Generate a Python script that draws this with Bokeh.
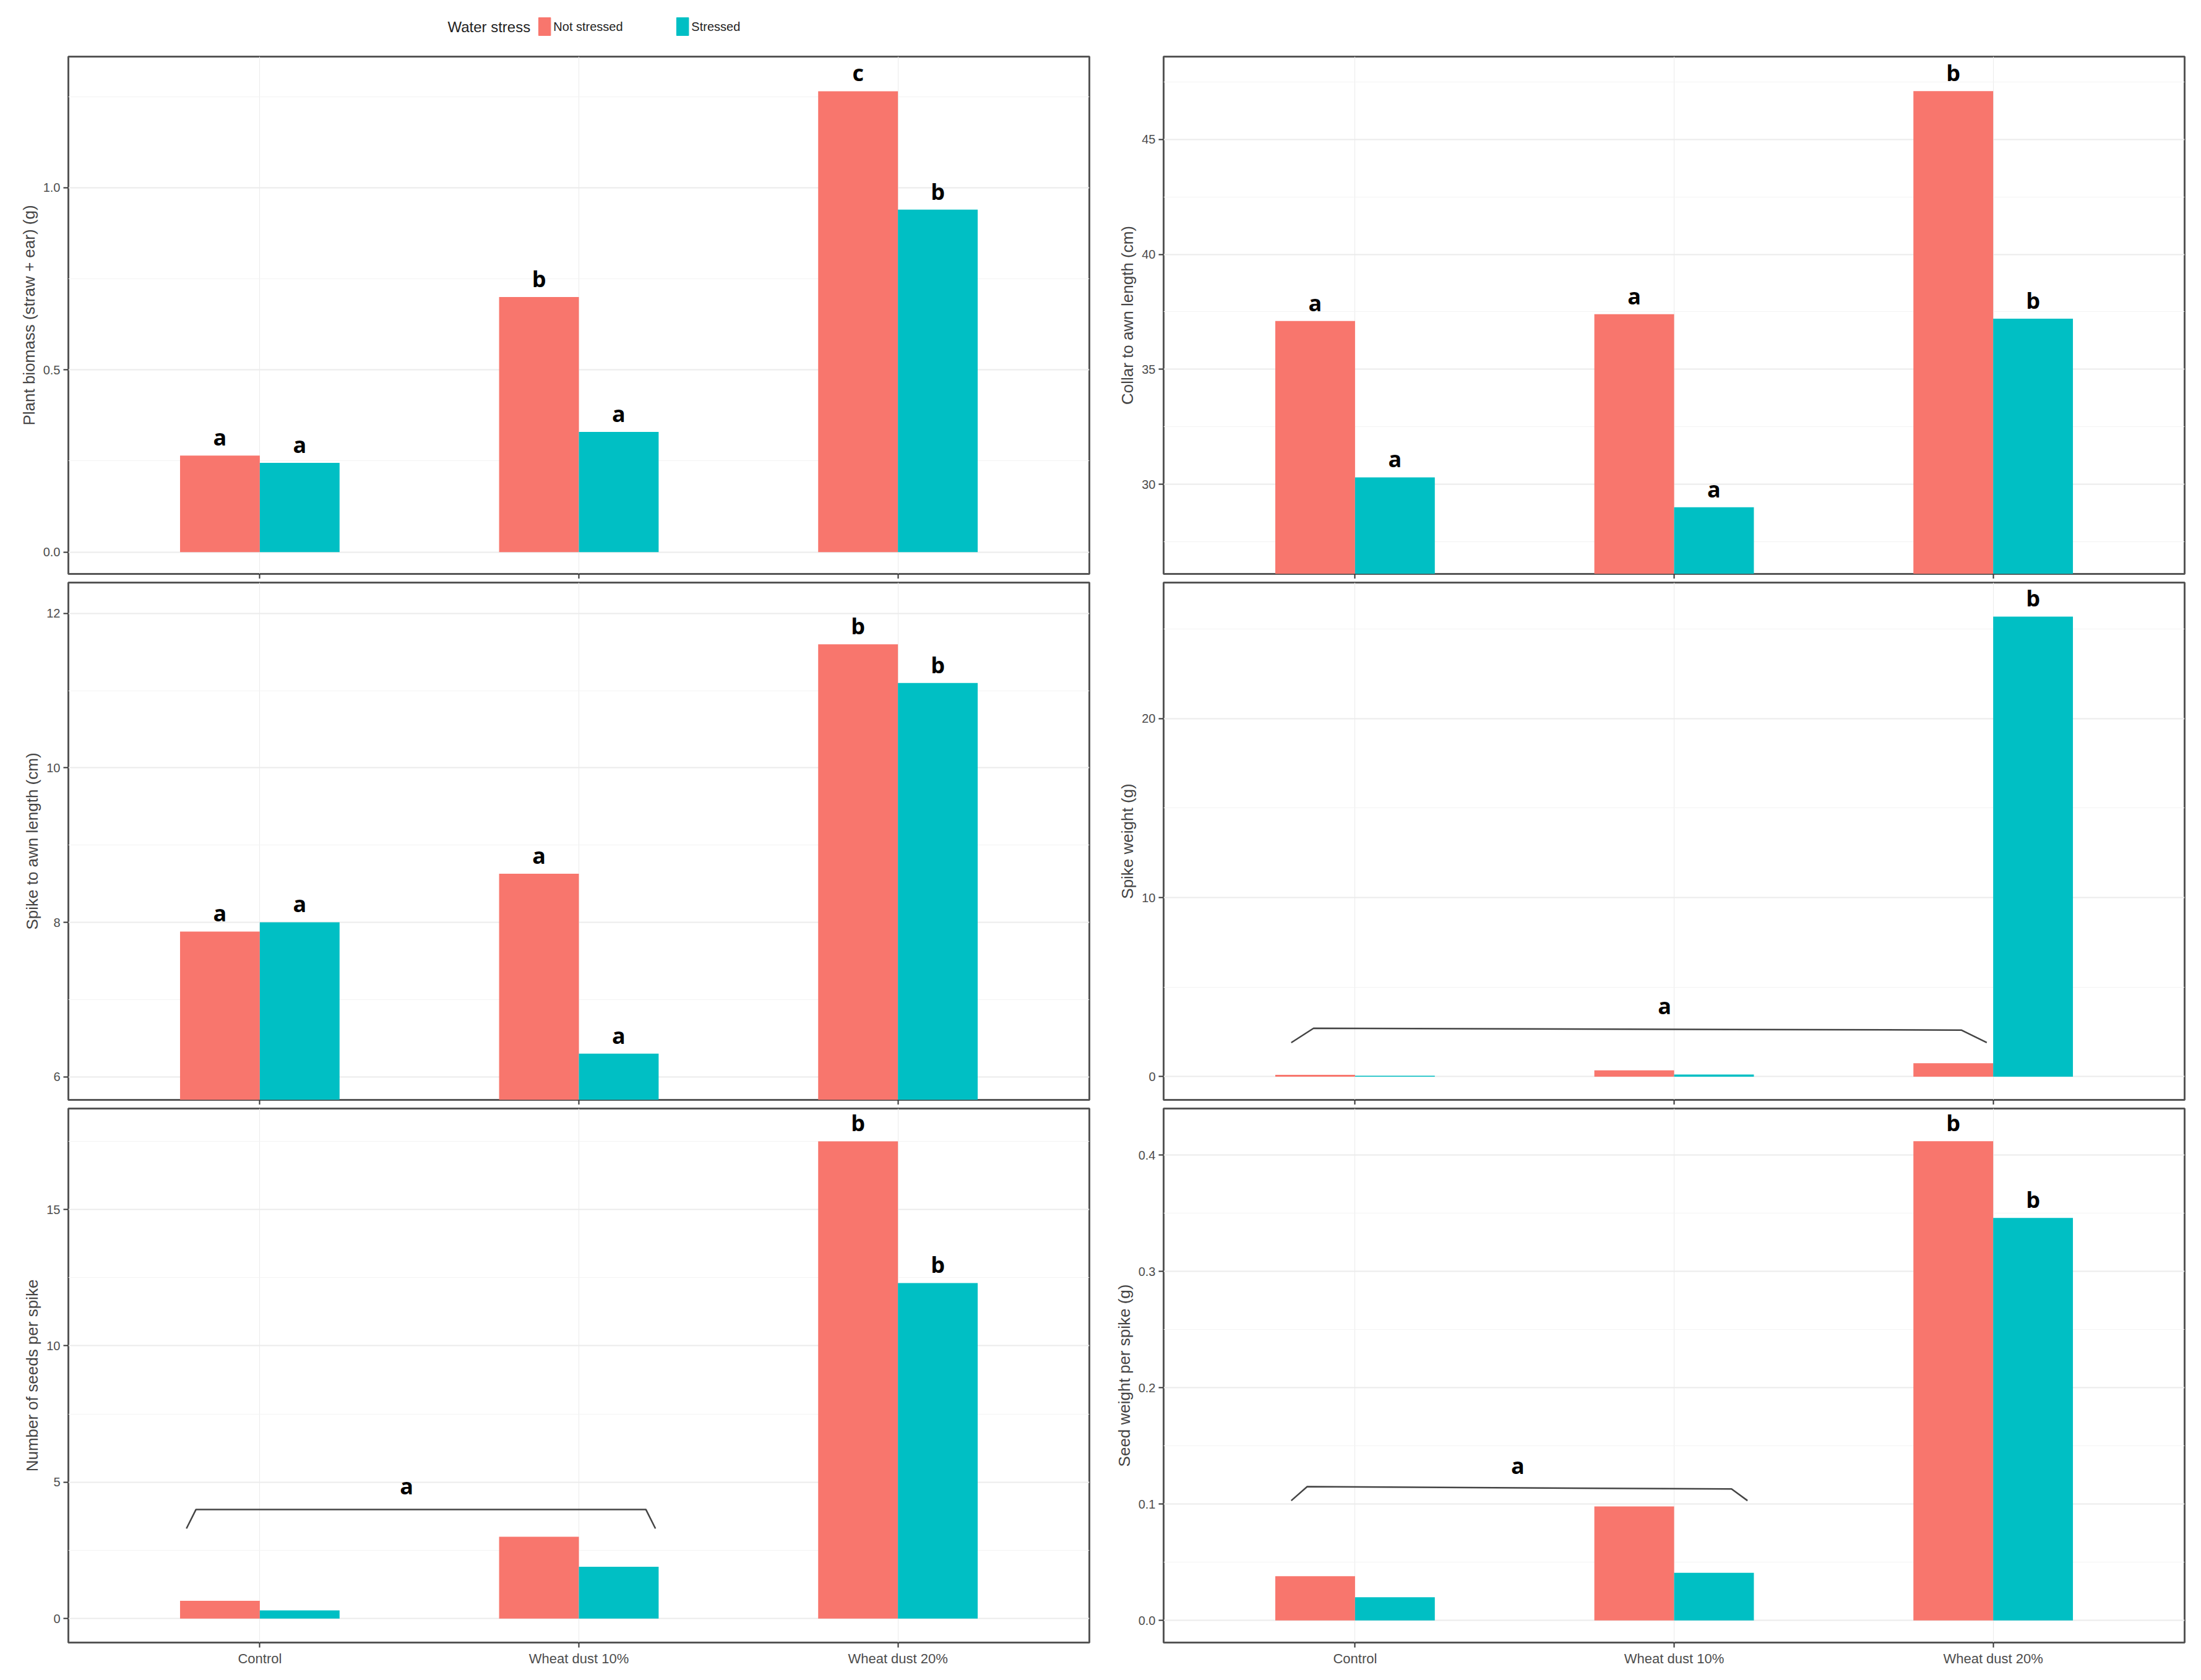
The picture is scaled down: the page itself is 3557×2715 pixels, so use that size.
from bokeh.plotting import figure
from bokeh.layouts import column, gridplot
from bokeh.models import Range1d, FixedTicker, ColumnDataSource, PrintfTickFormatter
from bokeh.core.properties import value
from bokeh.embed import file_html
from bokeh.resources import INLINE

categories = ["Control", "Wheat dust 10%", "Wheat dust 20%"]
groups = ["Not stressed", "Stressed"]
colors = ["#F8766D", "#00BFC4"]

biomass_ns = [0.265, 0.70, 1.265]
biomass_s = [0.245, 0.33, 0.94]
biomass_letters = [["a", "b", "c"], ["a", "a", "b"]]

collar_ns = [37.1, 37.4, 47.1]
collar_s = [30.3, 29.0, 37.2]
collar_letters = [["a", "a", "b"], ["a", "a", "b"]]

spike_awn_ns = [7.88, 8.63, 11.6]
spike_awn_s = [8.0, 6.3, 11.1]
spike_awn_letters = [["a", "a", "b"], ["a", "a", "b"]]

spike_w_ns = [0.1, 0.35, 0.75]
spike_w_s = [0.05, 0.12, 25.7]
spike_w_letters = [["", "", ""], ["", "", "b"]]

seeds_ns = [0.65, 3.0, 17.5]
seeds_s = [0.3, 1.9, 12.3]
seeds_letters = [["", "", "b"], ["", "", "b"]]

seedw_ns = [0.038, 0.098, 0.412]
seedw_s = [0.02, 0.041, 0.346]
seedw_letters = [["", "", "b"], ["", "", "b"]]

FONT = "Liberation Sans"
W = 1770


def panel(title, ns, s, letters, yr, ticks, minor, fmt, bracket=None, xlabels=False, h=850):
    p = figure(width=W, height=h, output_backend="svg", toolbar_location=None,
               x_range=Range1d(0.4, 3.6), y_range=Range1d(*yr),
               min_border_left=110, min_border_right=10, min_border_top=6, min_border_bottom=6)
    p.background_fill_color = "white"
    p.outline_line_color = "#555555"
    p.outline_line_width = 3
    xs = [1, 2, 3]
    off = (yr[1] - yr[0]) * 0.006
    for gi, (vals, col) in enumerate(zip([ns, s], colors)):
        xx = [x + (-0.125 if gi == 0 else 0.125) for x in xs]
        p.vbar(x=xx, top=vals, bottom=0, width=0.25, color=col, line_color=None)
        lx = [x for x, l in zip(xx, letters[gi]) if l]
        ly = [v + off for v, l in zip(vals, letters[gi]) if l]
        lt = [l for l in letters[gi] if l]
        if lt:
            p.text(x=lx, y=ly, text=lt, text_align="center",
                   text_baseline="bottom", text_font=value("Open Sans"),
                   text_font_style="bold", text_font_size="36px", text_color="black")
    if bracket:
        bx, by, lx, ly = bracket
        p.line(x=bx, y=by, line_color="#444444", line_width=2.5)
        p.text(x=[lx], y=[ly], text=["a"], text_align="center", text_baseline="bottom",
               text_font=value("Open Sans"), text_font_style="bold", text_font_size="36px")
    p.xaxis.ticker = FixedTicker(ticks=[1, 2, 3])
    if xlabels:
        p.xaxis.major_label_overrides = {1: categories[0], 2: categories[1], 3: categories[2]}
        p.xaxis.major_label_text_font_size = "22px"
    else:
        p.xaxis.major_label_overrides = {1: "", 2: "", 3: ""}
        p.xaxis.major_label_text_font_size = "22px"
    p.xaxis.major_label_text_font = FONT
    p.xaxis.major_label_text_color = "#4d4d4d"
    p.yaxis.ticker = FixedTicker(ticks=ticks, minor_ticks=minor)
    p.yaxis.formatter = PrintfTickFormatter(format=fmt)
    p.yaxis.major_label_text_font_size = "20px"
    p.yaxis.major_label_text_font = FONT
    p.yaxis.major_label_text_color = "#4d4d4d"
    p.yaxis.axis_label = title
    p.yaxis.axis_label_text_font = FONT
    p.yaxis.axis_label_text_font_style = "normal"
    p.yaxis.axis_label_text_font_size = "26px"
    for ax in [p.xaxis, p.yaxis]:
        ax.axis_line_color = None
        ax.major_tick_line_color = "#333333"
        ax.major_tick_line_width = 2
        ax.minor_tick_line_color = None
        ax.major_tick_in = 0
        ax.major_tick_out = 8
    p.xgrid.grid_line_color = "#ebebeb"
    p.ygrid.grid_line_color = "#ebebeb"
    p.ygrid.grid_line_width = 2
    p.ygrid.minor_grid_line_color = "#f3f3f3"
    return p


p1 = panel("Plant biomass (straw + ear) (g)", biomass_ns, biomass_s, biomass_letters,
           (-0.06, 1.36), [0.0, 0.5, 1.0], [0.25, 0.75, 1.25], "%.1f")
p2 = panel("Collar to awn length (cm)", collar_ns, collar_s, collar_letters,
           (26.1, 48.6), [30, 35, 40, 45], [27.5, 32.5, 37.5, 42.5, 47.5], "%d")
p3 = panel("Spike to awn length (cm)", spike_awn_ns, spike_awn_s, spike_awn_letters,
           (5.7, 12.4), [6, 8, 10, 12], [7, 9, 11], "%d")
p4 = panel("Spike weight (g)", spike_w_ns, spike_w_s, spike_w_letters,
           (-1.3, 27.6), [0, 10, 20], [5, 15, 25], "%d",
           bracket=([0.8, 0.87, 2.9, 2.98], [1.9, 2.7, 2.6, 1.9], 1.97, 3.1))
p5 = panel("Number of seeds per spike", seeds_ns, seeds_s, seeds_letters,
           (-0.88, 18.7), [0, 5, 10, 15], [2.5, 7.5, 12.5, 17.5], "%d",
           bracket=([0.77, 0.8, 2.21, 2.24], [3.3, 4.0, 4.0, 3.3], 1.46, 4.3), xlabels=True, h=910)
p6 = panel("Seed weight per spike (g)", seedw_ns, seedw_s, seedw_letters,
           (-0.019, 0.44), [0.0, 0.1, 0.2, 0.3, 0.4], [0.05, 0.15, 0.25, 0.35], "%.1f",
           bracket=([0.8, 0.85, 2.18, 2.23], [0.103, 0.115, 0.113, 0.103], 1.51, 0.12),
           xlabels=True, h=910)

hdr = figure(width=2 * W, height=85, output_backend="svg", toolbar_location=None,
             x_range=Range1d(0, 1), y_range=Range1d(0, 1), min_border=0)
hdr.axis.visible = False
hdr.grid.visible = False
hdr.outline_line_color = None
src = ColumnDataSource(dict(x=[0.2485, 0.3115], y=[0.5, 0.5], c=colors, t=groups))
hdr.text(x=[0.242], y=[0.5], text=["Water stress"], text_align="right", text_baseline="middle",
         text_font=value(FONT), text_font_size="24px", text_color="#222222")
hdr.rect(x="x", y="y", width=0.0055, height=0.34, color="c", source=src)
hdr.text(x=[0.2525, 0.3155], y=[0.5, 0.5], text=groups, text_align="left", text_baseline="middle",
         text_font=value(FONT), text_font_size="20px", text_color="#222222")

grid = gridplot([[p1, p2], [p3, p4], [p5, p6]], toolbar_location=None)
page = column(hdr, grid, spacing=0)
open("out.html", "w").write(file_html(page, INLINE))
